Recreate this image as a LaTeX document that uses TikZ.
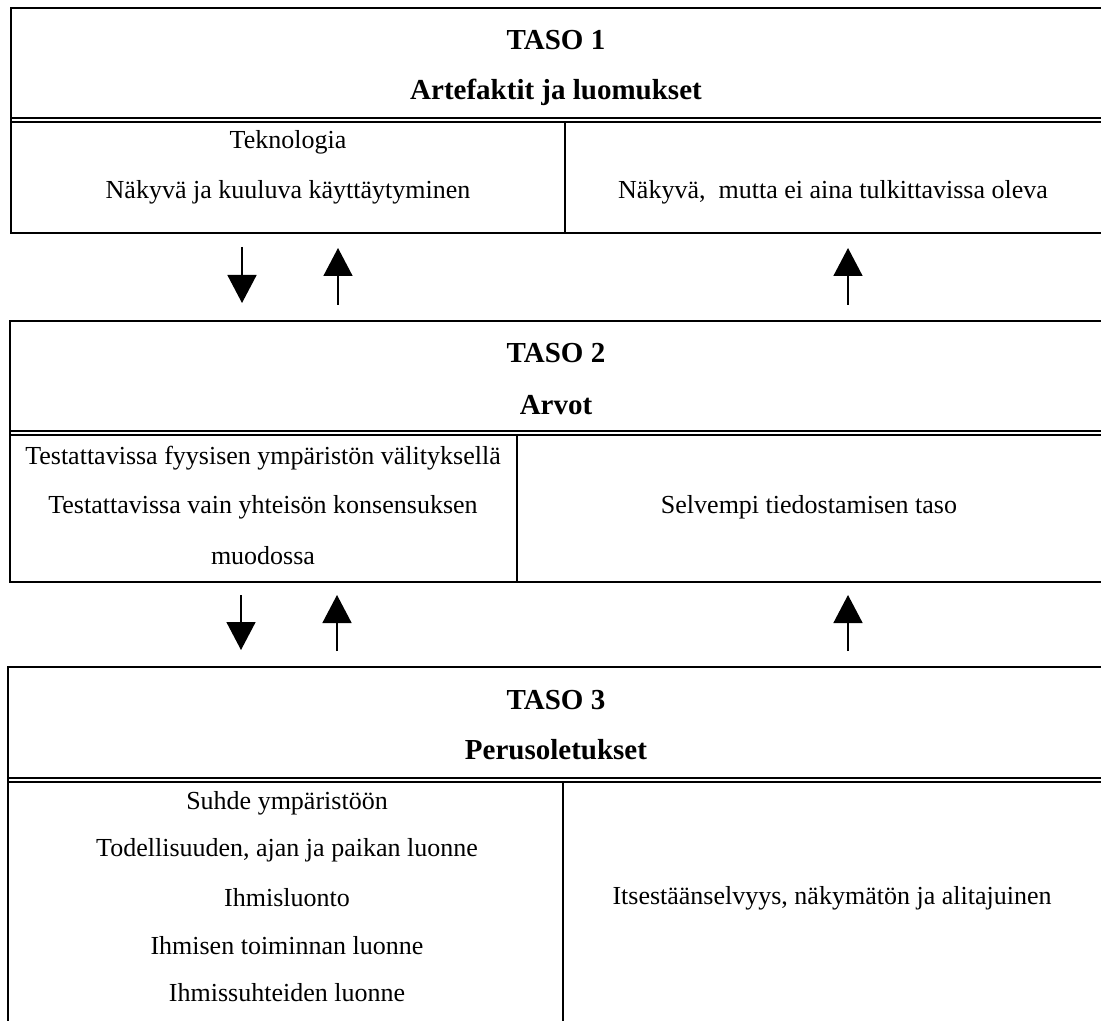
\documentclass[tikz,border=0pt]{standalone}
\usepackage{fontspec}
\setmainfont{Liberation Serif}
\usetikzlibrary{arrows.meta}
\begin{document}
\begin{tikzpicture}[x=0.5pt,y=-0.5pt,
  frame/.style={line width=1pt},
  dbl/.style={line width=0.75pt},
  head/.style={font=\fontsize{14.5}{17}\selectfont\bfseries, inner sep=0pt},
  body/.style={font=\fontsize{13}{15}\selectfont, inner sep=0pt},
  arr/.style={line width=0.8pt,-{Triangle[width=14.5pt,length=14pt]}}]
\useasboundingbox (0,0) rectangle (1101,1021);

% ---------- Box 1 ----------
\draw[frame] (1101,8) -- (11,8) -- (11,233) -- (1101,233);
\draw[dbl] (11,118) -- (1101,118);
\draw[dbl] (11,122) -- (1101,122);
\draw[frame] (565,122) -- (565,233);
\node[head] (t1) at (556,40) {TASO 1};
\node[head] (h1) at (556,92) {Artefaktit ja luomukset};
\node[body] (a1) at (288,142) {Teknologia};
\node[body] (a2) at (288,192) {Näkyvä ja kuuluva käyttäytyminen};
\node[body] (a3) at (833,192) {Näkyvä,\ \ mutta ei aina tulkittavissa oleva};

% ---------- Arrows 1 ----------
\coordinate (d1s) at (242,247); \coordinate (d1e) at (242,303);
\coordinate (u1s) at (338,305); \coordinate (u1e) at (338,248);
\coordinate (r1s) at (848,305); \coordinate (r1e) at (848,248);
\draw[arr] (d1s) -- (d1e);
\draw[arr] (u1s) -- (u1e);
\draw[arr] (r1s) -- (r1e);

% ---------- Box 2 ----------
\draw[frame] (1101,321) -- (10,321) -- (10,582) -- (1101,582);
\draw[dbl] (10,431) -- (1101,431);
\draw[dbl] (10,435) -- (1101,435);
\draw[frame] (517,435) -- (517,582);
\node[head] (t2) at (556,353) {TASO 2};
\node[head] (h2) at (556,405) {Arvot};
\node[body] (b1) at (263,458) {Testattavissa fyysisen ympäristön välityksellä};
\node[body] (b2) at (263,507) {Testattavissa vain yhteisön konsensuksen};
\node[body] (b3) at (263,556) {muodossa};
\node[body] (b4) at (809,507) {Selvempi tiedostamisen taso};

% ---------- Arrows 2 ----------
\coordinate (d2s) at (241,595); \coordinate (d2e) at (241,650);
\coordinate (u2s) at (337,651); \coordinate (u2e) at (337,595);
\coordinate (r2s) at (848,651); \coordinate (r2e) at (848,595);
\draw[arr] (d2s) -- (d2e);
\draw[arr] (u2s) -- (u2e);
\draw[arr] (r2s) -- (r2e);

% ---------- Box 3 ----------
\draw[frame] (1101,667) -- (8,667) -- (8,1021);
\draw[dbl] (8,778) -- (1101,778);
\draw[dbl] (8,782) -- (1101,782);
\draw[frame] (563,782) -- (563,1021);
\node[head] (t3) at (556,700) {TASO 3};
\node[head] (h3) at (556,750) {Perusoletukset};
\node[body] (c1) at (287,803) {Suhde ympäristöön};
\node[body] (c2) at (287,850) {Todellisuuden, ajan ja paikan luonne};
\node[body] (c3) at (287,898) {Ihmisluonto};
\node[body] (c4) at (287,946) {Ihmisen toiminnan luonne};
\node[body] (c5) at (287,993) {Ihmissuhteiden luonne};
\node[body] (c6) at (832,898) {Itsestäänselvyys, näkymätön ja alitajuinen};
\end{tikzpicture}
\end{document}
